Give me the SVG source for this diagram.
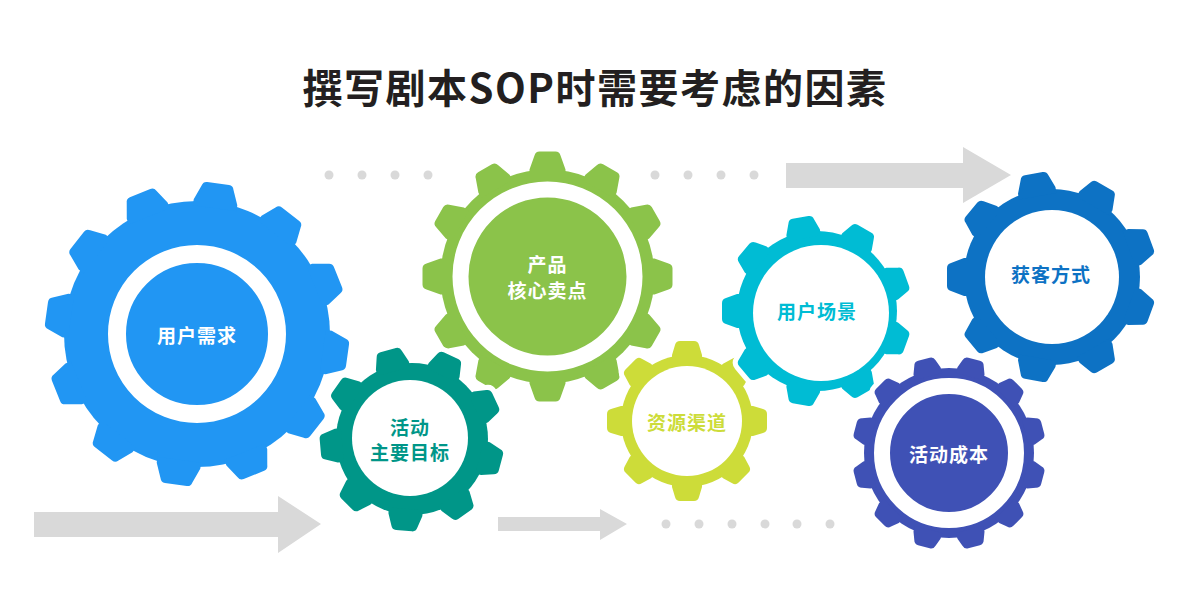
<svg xmlns="http://www.w3.org/2000/svg" xmlns:xlink="http://www.w3.org/1999/xlink" width="1190" height="589" viewBox="0 0 1190 589">
<style>
.title{font-family:"Noto Sans CJK SC","Liberation Sans",sans-serif;font-weight:700;font-size:40px;fill:#231F20;letter-spacing:1.5px}
.lbl{font-family:"Noto Sans CJK SC","Liberation Sans",sans-serif;font-weight:700;font-size:19px;letter-spacing:1px;text-anchor:middle;dominant-baseline:central}
.halo{fill:#fff;stroke:#fff;stroke-width:10;stroke-linejoin:round}
.grey{fill:#D9D9D9}
</style>
<defs>
<path id="t1" d="M-22,-127 L-22,-133 L-16,-148 Q-15,-152 -11,-152 L11,-152 Q15,-152 16,-148 L22,-133 L22,-127Z"/>
<path id="t2" d="M-17,-70 L-17,-76 L-13,-88 Q-12,-92 -8,-92 L8,-92 Q12,-92 13,-88 L17,-76 L17,-70Z"/>
<path id="t3" d="M-18,-101 L-18,-107 L-13,-121 Q-12,-125 -8,-125 L8,-125 Q12,-125 13,-121 L18,-107 L18,-101Z"/>
<path id="t4" d="M-15,-60 L-15,-66 L-12,-76 Q-11,-80 -7,-80 L7,-80 Q11,-80 12,-76 L15,-66 L15,-60Z"/>
<path id="t5" d="M-17,-74 L-17,-80 L-13,-91 Q-12,-95 -8,-95 L8,-95 Q12,-95 13,-91 L17,-80 L17,-74Z"/>
<path id="t6" d="M-19,-82 L-19,-88 L-14,-101 Q-13,-105 -9,-105 L9,-105 Q13,-105 14,-101 L19,-88 L19,-82Z"/>
<path id="t7" d="M-14,-79 L-14,-85 L-11,-93 Q-10,-97 -6,-97 L6,-97 Q10,-97 11,-93 L14,-85 L14,-79Z"/>
<g id="g1"><circle r="133"/>
<use xlink:href="#t1" transform="rotate(8)"/><use xlink:href="#t1" transform="rotate(38)"/><use xlink:href="#t1" transform="rotate(68)"/><use xlink:href="#t1" transform="rotate(98)"/><use xlink:href="#t1" transform="rotate(128)"/><use xlink:href="#t1" transform="rotate(158)"/><use xlink:href="#t1" transform="rotate(188)"/><use xlink:href="#t1" transform="rotate(218)"/><use xlink:href="#t1" transform="rotate(248)"/><use xlink:href="#t1" transform="rotate(278)"/><use xlink:href="#t1" transform="rotate(308)"/><use xlink:href="#t1" transform="rotate(338)"/></g>
<g id="g2"><circle r="76"/>
<use xlink:href="#t2" transform="rotate(-15)"/><use xlink:href="#t2" transform="rotate(25)"/><use xlink:href="#t2" transform="rotate(65)"/><use xlink:href="#t2" transform="rotate(105)"/><use xlink:href="#t2" transform="rotate(145)"/><use xlink:href="#t2" transform="rotate(185)"/><use xlink:href="#t2" transform="rotate(225)"/><use xlink:href="#t2" transform="rotate(265)"/><use xlink:href="#t2" transform="rotate(305)"/></g>
<g id="g3"><circle r="107"/>
<use xlink:href="#t3" transform="rotate(0)"/><use xlink:href="#t3" transform="rotate(30)"/><use xlink:href="#t3" transform="rotate(60)"/><use xlink:href="#t3" transform="rotate(90)"/><use xlink:href="#t3" transform="rotate(120)"/><use xlink:href="#t3" transform="rotate(150)"/><use xlink:href="#t3" transform="rotate(180)"/><use xlink:href="#t3" transform="rotate(210)"/><use xlink:href="#t3" transform="rotate(240)"/><use xlink:href="#t3" transform="rotate(270)"/><use xlink:href="#t3" transform="rotate(300)"/><use xlink:href="#t3" transform="rotate(330)"/></g>
<g id="g4"><circle r="66"/>
<use xlink:href="#t4" transform="rotate(0)"/><use xlink:href="#t4" transform="rotate(45)"/><use xlink:href="#t4" transform="rotate(90)"/><use xlink:href="#t4" transform="rotate(135)"/><use xlink:href="#t4" transform="rotate(180)"/><use xlink:href="#t4" transform="rotate(225)"/><use xlink:href="#t4" transform="rotate(270)"/><use xlink:href="#t4" transform="rotate(315)"/></g>
<g id="g5"><circle r="80"/>
<use xlink:href="#t5" transform="rotate(-10)"/><use xlink:href="#t5" transform="rotate(30)"/><use xlink:href="#t5" transform="rotate(70)"/><use xlink:href="#t5" transform="rotate(110)"/><use xlink:href="#t5" transform="rotate(150)"/><use xlink:href="#t5" transform="rotate(190)"/><use xlink:href="#t5" transform="rotate(230)"/><use xlink:href="#t5" transform="rotate(270)"/><use xlink:href="#t5" transform="rotate(310)"/></g>
<g id="g6"><circle r="88"/>
<use xlink:href="#t6" transform="rotate(-10)"/><use xlink:href="#t6" transform="rotate(30)"/><use xlink:href="#t6" transform="rotate(70)"/><use xlink:href="#t6" transform="rotate(110)"/><use xlink:href="#t6" transform="rotate(150)"/><use xlink:href="#t6" transform="rotate(190)"/><use xlink:href="#t6" transform="rotate(230)"/><use xlink:href="#t6" transform="rotate(270)"/><use xlink:href="#t6" transform="rotate(310)"/></g>
<g id="g7"><circle r="85"/>
<use xlink:href="#t7" transform="rotate(-15)"/><use xlink:href="#t7" transform="rotate(15)"/><use xlink:href="#t7" transform="rotate(45)"/><use xlink:href="#t7" transform="rotate(75)"/><use xlink:href="#t7" transform="rotate(105)"/><use xlink:href="#t7" transform="rotate(135)"/><use xlink:href="#t7" transform="rotate(165)"/><use xlink:href="#t7" transform="rotate(195)"/><use xlink:href="#t7" transform="rotate(225)"/><use xlink:href="#t7" transform="rotate(255)"/><use xlink:href="#t7" transform="rotate(285)"/><use xlink:href="#t7" transform="rotate(315)"/></g>
</defs>
<rect width="1190" height="589" fill="#fff"/>
<text class="title" x="595" y="103" text-anchor="middle">撰写剧本SOP时需要考虑的因素</text>
<g id="connectors">
<g class="grey">
<circle cx="329" cy="175" r="4.5"/><circle cx="362" cy="175" r="4.5"/><circle cx="395" cy="175" r="4.5"/><circle cx="428" cy="175" r="4.5"/>
<circle cx="655" cy="175" r="4.5"/><circle cx="688" cy="175" r="4.5"/><circle cx="721" cy="175" r="4.5"/><circle cx="754" cy="175" r="4.5"/>
<path d="M786,163 H963 V147 L1011,175 L963,203 V188 H786Z"/>
<path d="M34,512 H278 V496 L321,524 L278,553 V537 H34Z"/>
<path d="M498,517 H600 V509 L627,524 L600,540 V531 H498Z"/>
<circle cx="666" cy="524" r="4.5"/><circle cx="699" cy="524" r="4.5"/><circle cx="732" cy="524" r="4.5"/><circle cx="765" cy="524" r="4.5"/><circle cx="797" cy="524" r="4.5"/><circle cx="830" cy="524" r="4.5"/>
</g>
</g>
<g id="gear-yonghuxuqiu" transform="translate(197,334)">
<use xlink:href="#g1" class="halo"/><use xlink:href="#g1" fill="#2196F3"/>
<circle r="80" fill="none" stroke="#fff" stroke-width="18"/>
<text class="lbl" fill="#fff">用户需求</text>
</g>
<g id="gear-chanpin" transform="translate(547.5,276.5)">
<use xlink:href="#g3" class="halo"/><use xlink:href="#g3" fill="#8BC34A"/>
<circle r="87" fill="none" stroke="#fff" stroke-width="16"/>
<text class="lbl" fill="#fff" y="-13">产品</text>
<text class="lbl" fill="#fff" y="13">核心卖点</text>
</g>
<g id="gear-huodongmubiao" transform="translate(412,439)">
<use xlink:href="#g2" class="halo"/><use xlink:href="#g2" fill="#009688"/>
<circle cx="-2" cy="-1" r="58" fill="#fff"/>
<text class="lbl" fill="#009688" x="-2" y="-13">活动</text>
<text class="lbl" fill="#009688" x="-2" y="12">主要目标</text>
</g>
<g id="gear-ziyuanqudao" transform="translate(687,421)">
<use xlink:href="#g4" class="halo"/><use xlink:href="#g4" fill="#CDDC39"/>
<circle r="55" fill="#fff"/>
<text class="lbl" fill="#CDDC39">资源渠道</text>
</g>
<g id="gear-yonghuchangjing" transform="translate(817,311)">
<use xlink:href="#g5" class="halo"/><use xlink:href="#g5" fill="#00BCD4"/>
<circle cx="4" cy="2" r="68" fill="#fff"/>
<text class="lbl" fill="#00BCD4" y="-1">用户场景</text>
</g>
<g id="gear-huokefangshi" transform="translate(1052,277)">
<use xlink:href="#g6" class="halo"/><use xlink:href="#g6" fill="#0D72C4"/>
<circle r="67" fill="#fff"/>
<text class="lbl" fill="#0D72C4" x="-1" y="-4">获客方式</text>
</g>
<g id="gear-huodongchengben" transform="translate(949,453)">
<use xlink:href="#g7" class="halo"/><use xlink:href="#g7" fill="#3F51B5"/>
<circle r="67" fill="none" stroke="#fff" stroke-width="16"/>
<text class="lbl" fill="#fff">活动成本</text>
</g>
</svg>
